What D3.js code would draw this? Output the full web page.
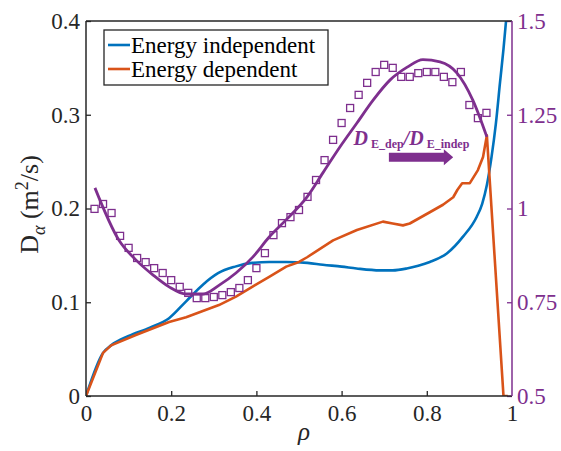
<!DOCTYPE html>
<html><head><meta charset="utf-8">
<script src="https://cdn.jsdelivr.net/npm/d3@7"></script>
<style>
html,body{margin:0;padding:0;background:#fff;}
svg{display:block;}
svg text{font-family:"Liberation Serif","Times New Roman",Times,"DejaVu Serif","Noto Serif",serif !important;}
</style></head>
<body><svg id="chart" width="561" height="451"></svg>
<script>
// ---- data ----
const xTicks = [0, 0.2, 0.4, 0.6, 0.8, 1];
const xTickLabels = ["0", "0.2", "0.4", "0.6", "0.8", "1"];
const yLeftTicks = [0, 0.1, 0.2, 0.3, 0.4];
const yLeftTickLabels = ["0", "0.1", "0.2", "0.3", "0.4"];
const yRightTicks = [0.5, 0.75, 1, 1.25, 1.5];
const yRightTickLabels = ["0.5", "0.75", "1", "1.25", "1.5"];
const seriesNames = ["Energy independent", "Energy dependent"];

const indepRho = [0, 0.04, 0.059, 0.1, 0.15, 0.195, 0.235, 0.275, 0.31, 0.35, 0.39, 0.43, 0.47, 0.52, 0.556, 0.6, 0.635, 0.69, 0.72, 0.753, 0.78, 0.807, 0.847, 0.885, 0.917, 0.93, 0.941, 0.952, 0.962, 0.972, 0.98, 0.988];
const indepD   = [0, 0.046, 0.054, 0.064, 0.073, 0.083, 0.101, 0.119, 0.131, 0.138, 0.142, 0.143, 0.143, 0.142, 0.140, 0.138, 0.136, 0.134, 0.134, 0.136, 0.139, 0.143, 0.152, 0.170, 0.191, 0.205, 0.225, 0.255, 0.29, 0.335, 0.37, 0.41];

const depRho = [0, 0.04, 0.059, 0.117, 0.195, 0.235, 0.312, 0.352, 0.392, 0.43, 0.47, 0.5, 0.519, 0.58, 0.636, 0.697, 0.72, 0.744, 0.76, 0.807, 0.838, 0.862, 0.872, 0.883, 0.901, 0.92, 0.932, 0.941, 0.98, 0.99];
const depD   = [0, 0.046, 0.054, 0.065, 0.079, 0.084, 0.097, 0.106, 0.117, 0.127, 0.138, 0.143, 0.148, 0.166, 0.177, 0.186, 0.184, 0.182, 0.184, 0.196, 0.204, 0.212, 0.22, 0.227, 0.227, 0.241, 0.255, 0.278, 0, 0];

const ratioFitRho = [0.021, 0.077, 0.117, 0.157, 0.195, 0.235, 0.275, 0.312, 0.352, 0.392, 0.43, 0.469, 0.519, 0.556, 0.596, 0.636, 0.674, 0.714, 0.754, 0.791, 0.831, 0.871, 0.908, 0.941];
const ratioFit    = [1.055, 0.916, 0.863, 0.823, 0.791, 0.772, 0.772, 0.795, 0.828, 0.871, 0.924, 0.969, 1.031, 1.095, 1.164, 1.228, 1.289, 1.343, 1.377, 1.397, 1.391, 1.361, 1.289, 1.191];

const ratioRho = [0.02,0.04,0.06,0.08,0.10,0.12,0.14,0.16,0.18,0.20,0.22,0.24,0.26,0.28,0.30,0.32,0.34,0.36,0.38,0.40,0.42,0.44,0.46,0.48,0.50,0.52,0.54,0.56,0.58,0.60,0.62,0.64,0.66,0.68,0.70,0.72,0.74,0.76,0.78,0.80,0.82,0.84,0.86,0.88,0.90,0.92,0.94];
const ratio    = [0.999,1.012,0.988,0.927,0.895,0.868,0.857,0.841,0.828,0.809,0.791,0.775,0.761,0.761,0.764,0.769,0.777,0.788,0.809,0.841,0.881,0.929,0.961,0.977,0.996,1.031,1.076,1.129,1.183,1.228,1.268,1.303,1.335,1.364,1.383,1.375,1.351,1.351,1.361,1.364,1.364,1.351,1.337,1.364,1.276,1.241,1.255];

// ---- layout ----
const W = 561, H = 451;
const m = {left: 86, right: 49, top: 21, bottom: 55};
const pw = W - m.left - m.right, ph = H - m.top - m.bottom;
const blue = "#0072BD", orange = "#D95319", purple = "#7E2F8E";
const ink = "#262626";

const svg = d3.select("#chart");
const x = d3.scaleLinear().domain([0, 1]).range([m.left, m.left + pw]);
const yL = d3.scaleLinear().domain([0, 0.4]).range([m.top + ph, m.top]);
const yR = d3.scaleLinear().domain([0.5, 1.5]).range([m.top + ph, m.top]);

svg.append("defs").append("clipPath").attr("id", "clip")
  .append("rect").attr("x", m.left).attr("y", m.top).attr("width", pw).attr("height", ph);

const plot = svg.append("g").attr("clip-path", "url(#clip)");

const lineL = (xs, ys, c) => d3.line().curve(c).x((d, i) => x(xs[i])).y((d, i) => yL(ys[i]))(xs);
const lineR = (xs, ys, c) => d3.line().curve(c).x((d, i) => x(xs[i])).y((d, i) => yR(ys[i]))(xs);

plot.append("path").attr("d", lineL(indepRho, indepD, d3.curveMonotoneX)).attr("fill", "none")
  .attr("stroke", blue).attr("stroke-width", 2.6).attr("stroke-linejoin", "round");
plot.append("path").attr("d", lineL(depRho, depD, d3.curveLinear)).attr("fill", "none")
  .attr("stroke", orange).attr("stroke-width", 2.6).attr("stroke-linejoin", "round");

// ratio markers
const ms = 7;
plot.selectAll("rect.mk").data(ratioRho).enter().append("rect").attr("class", "mk")
  .attr("x", (d) => x(d) - ms / 2).attr("y", (d, i) => yR(ratio[i]) - ms / 2)
  .attr("width", ms).attr("height", ms).attr("fill", "none")
  .attr("stroke", purple).attr("stroke-width", 1.3);

plot.append("path").attr("d", lineR(ratioFitRho, ratioFit, d3.curveMonotoneX)).attr("fill", "none")
  .attr("stroke", purple).attr("stroke-width", 2.8).attr("stroke-linejoin", "round");

// ---- axes ----
const fs = 23;
const axL = d3.axisLeft(yL).tickValues(yLeftTicks).tickFormat((d, i) => yLeftTickLabels[i]).tickSizeInner(-5).tickSizeOuter(0).tickPadding(6);
const gL = svg.append("g").attr("transform", `translate(${m.left},0)`).call(axL);
gL.select(".domain").remove();
gL.selectAll("line").attr("stroke", ink).attr("stroke-width", 1.3);
gL.selectAll("text").attr("font-size", fs).attr("fill", ink);

const axB = d3.axisBottom(x).tickValues(xTicks).tickFormat((d, i) => xTickLabels[i]).tickSizeInner(-5).tickSizeOuter(0).tickPadding(9);
const gB = svg.append("g").attr("transform", `translate(0,${m.top + ph})`).call(axB);
gB.select(".domain").remove();
gB.selectAll("line").attr("stroke", ink).attr("stroke-width", 1.3);
gB.selectAll(".tick").filter((d) => d === 0 || d === 1).select("line").remove();
gB.selectAll("text").attr("font-size", fs).attr("fill", ink);

const axR = d3.axisRight(yR).tickValues(yRightTicks).tickFormat((d, i) => yRightTickLabels[i]).tickSizeInner(-5).tickSizeOuter(0).tickPadding(5);
const gR = svg.append("g").attr("transform", `translate(${m.left + pw},0)`).call(axR);
gR.select(".domain").remove();
gR.selectAll("line").attr("stroke", purple).attr("stroke-width", 1.3);
gR.selectAll("text").attr("font-size", fs).attr("fill", purple);

// frame
const fr = svg.append("g").attr("fill", "none").attr("stroke-width", 1.5);
fr.append("line").attr("x1", m.left).attr("x2", m.left + pw).attr("y1", m.top).attr("y2", m.top).attr("stroke", ink);
fr.append("line").attr("x1", m.left).attr("x2", m.left + pw).attr("y1", m.top + ph).attr("y2", m.top + ph).attr("stroke", ink);
fr.append("line").attr("x1", m.left).attr("x2", m.left).attr("y1", m.top).attr("y2", m.top + ph).attr("stroke", ink);
fr.append("line").attr("x1", m.left + pw).attr("x2", m.left + pw).attr("y1", m.top).attr("y2", m.top + ph).attr("stroke", purple);

// axis titles
svg.append("text").attr("x", m.left + pw / 2 + 5).attr("y", 440).attr("text-anchor", "middle")
  .attr("font-size", 25).attr("font-style", "italic").attr("fill", ink).text("ρ");

const yt = svg.append("text").attr("transform", `translate(38,${m.top + ph / 2 - 4}) rotate(-90)`)
  .attr("text-anchor", "middle").attr("font-size", 26).attr("fill", ink);
yt.append("tspan").text("D");
yt.append("tspan").attr("font-size", 18).attr("font-style", "italic").attr("dy", 7).text("α");
yt.append("tspan").attr("dy", -7).text(" (m");
yt.append("tspan").attr("font-size", 18).attr("dy", -10).text("2");
yt.append("tspan").attr("dy", 10).text("/s)");

// annotation
const ann = svg.append("text").attr("x", x(0.628)).attr("y", yR(1.17)).attr("fill", purple)
  .attr("font-weight", "bold").attr("font-size", 20);
ann.append("tspan").attr("font-style", "italic").text("D");
ann.append("tspan").attr("font-size", 12).attr("dy", 3).text(" E_dep");
ann.append("tspan").attr("font-style", "italic").attr("dy", -3).text("/D");
ann.append("tspan").attr("font-size", 12).attr("dy", 3).text(" E_indep");

const ay = yR(1.137);
const ax0 = x(0.711), ax1 = x(0.84), ax2 = x(0.862);
svg.append("path").attr("fill", purple)
  .attr("d", `M${ax0},${ay - 4.5}L${ax1},${ay - 4.5}L${ax1},${ay - 8}L${ax2},${ay}L${ax1},${ay + 8}L${ax1},${ay + 4.5}L${ax0},${ay + 4.5}Z`);

// legend
const lg = svg.append("g");
lg.append("rect").attr("x", 104).attr("y", 30).attr("width", 224).attr("height", 55)
  .attr("fill", "#fff").attr("stroke", ink).attr("stroke-width", 1.3);
[blue, orange].forEach((c, i) => {
  const yy = 45 + i * 24;
  lg.append("line").attr("x1", 108).attr("x2", 130).attr("y1", yy).attr("y2", yy).attr("stroke", c).attr("stroke-width", 2.6);
  lg.append("text").attr("x", 131).attr("y", yy + 8).attr("font-size", fs).attr("fill", "#000").text(seriesNames[i]);
});
</script></body></html>
